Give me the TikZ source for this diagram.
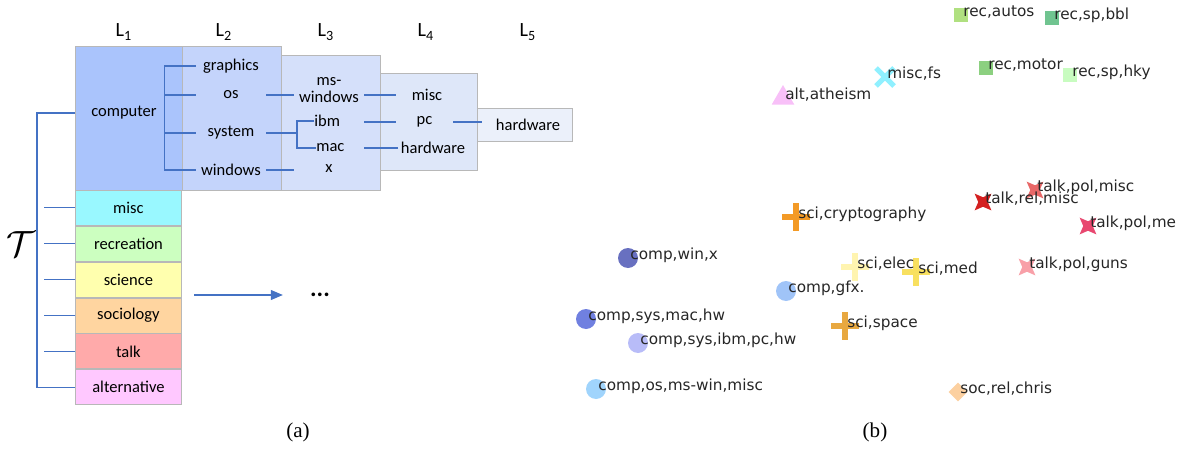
\documentclass[tikz,border=0pt]{standalone}
\usepackage{fontspec}
\setmainfont{Carlito}
\newfontfamily\plotfont{DejaVu Sans}
\newfontfamily\capfont{Liberation Serif}
\usetikzlibrary{positioning, arrows.meta, shapes.geometric, shapes.misc}
\definecolor{linkBlue}{HTML}{4472C4}
\definecolor{boxGrey}{HTML}{B8B8B8}
\definecolor{lvOne}{HTML}{AAC4FC}
\definecolor{lvTwo}{HTML}{C4D4FB}
\definecolor{lvThree}{HTML}{D5E0FA}
\definecolor{lvFour}{HTML}{DEE7F9}
\definecolor{lvFive}{HTML}{EBF0FA}
\definecolor{catMisc}{HTML}{99F8FF}
\definecolor{catRec}{HTML}{CCFFC0}
\definecolor{catSci}{HTML}{FFFFAE}
\definecolor{catSoc}{HTML}{FFD5A0}
\definecolor{catTalk}{HTML}{FFAAAA}
\definecolor{catAlt}{HTML}{FFC8FF}
\definecolor{recAutos}{HTML}{B0E080}
\definecolor{recBbl}{HTML}{70C490}
\definecolor{recMotor}{HTML}{8CD080}
\definecolor{recHky}{HTML}{C8FCC0}
\definecolor{miscFs}{HTML}{90F0FF}
\definecolor{altAth}{HTML}{F8C0F8}
\definecolor{sciCrypt}{HTML}{F39A26}
\definecolor{sciElec}{HTML}{FFF4B0}
\definecolor{sciMed}{HTML}{F8E060}
\definecolor{sciSpace}{HTML}{E8A840}
\definecolor{talkRel}{HTML}{D42020}
\definecolor{talkPolMisc}{HTML}{E86868}
\definecolor{talkPolMe}{HTML}{E84870}
\definecolor{talkGuns}{HTML}{F8A0A8}
\definecolor{compWin}{HTML}{6870C0}
\definecolor{compGfx}{HTML}{A0C4F8}
\definecolor{compMac}{HTML}{7080E0}
\definecolor{compIbm}{HTML}{B8BCF8}
\definecolor{compOs}{HTML}{A0D4FC}
\definecolor{socChris}{HTML}{FCD0A0}
\tikzstyle{levelbox} =[draw=boxGrey, line width=0.5pt, anchor=north west, inner sep=0]
\tikzstyle{word} =[inner sep=0, font=\fontsize{9.4}{10}\selectfont, align=center]
\tikzstyle{catbox} =[levelbox, minimum width=2.12cm, minimum height=0.7cm, font=\fontsize{9.4}{10}\selectfont]
\tikzstyle{lvl} =[inner sep=0, font=\fontsize{11.5}{12}\selectfont]
\tikzstyle{link} =[draw=linkBlue, line width=0.6pt]
\tikzstyle{tag} =[anchor=base west, inner sep=0, xshift=0.04cm, yshift=-0.02cm, font=\plotfont\fontsize{8.7}{10}\selectfont, text=black!85]
\tikzstyle{dot} =[circle, minimum size=0.4cm, inner sep=0]
\tikzstyle{sq} =[rectangle, minimum size=0.28cm, inner sep=0]
\tikzstyle{dia} =[diamond, minimum size=0.38cm, inner sep=0]
\tikzstyle{tri} =[regular polygon, regular polygon sides=3, minimum size=0.52cm, inner sep=0]
\tikzstyle{starmark} =[star, star points=4, star point ratio=0.4, minimum size=0.19cm, inner sep=0]
\tikzstyle{plusmark} =[cross out, rotate=45, minimum size=0.27cm, line width=0.12cm, inner sep=0]
\tikzstyle{xmark} =[cross out, minimum size=0.26cm, line width=0.1cm, inner sep=0]
\tikzstyle{capt} =[inner sep=0, font=\capfont\fontsize{12}{12}\selectfont]

\begin{document}
\begin{tikzpicture}[x=0.02cm, y=-0.02cm]
\useasboundingbox (0,0) rectangle (1184,450);

% (a) level boxes
\node (boxFive) [levelbox, fill=lvFive, minimum width=1.90cm, minimum height=0.66cm] at (477,108) {};
\node (boxFour) [levelbox, fill=lvFour, minimum width=1.94cm, minimum height=1.94cm] at (380,73) {};
\node (boxThree) [levelbox, fill=lvThree, minimum width=1.98cm, minimum height=2.70cm] at (281,55) {};
\node (boxTwo) [levelbox, fill=lvTwo, minimum width=1.98cm, minimum height=2.88cm] at (182,46) {};
\node (boxOne) [levelbox, fill=lvOne, minimum width=2.14cm, minimum height=2.88cm] at (75,46) {};

\node (lOne) [lvl] at (124,32) {L\textsubscript{1}};
\node (lTwo) [lvl] at (224,32) {L\textsubscript{2}};
\node (lThree) [lvl] at (326,32) {L\textsubscript{3}};
\node (lFour) [lvl] at (426,32) {L\textsubscript{4}};
\node (lFive) [lvl] at (528,32) {L\textsubscript{5}};

\node (computer) [word] at (124,113) {computer};
\node (graphics) [word, minimum width=1.4cm] at (231,66) {graphics};
\node (os) [word, minimum width=1.4cm] at (231,95) {os};
\node (system) [word, minimum width=1.4cm] at (231,133) {system};
\node (windows) [word, minimum width=1.4cm] at (231,170) {windows};
\node (msWin) [word, minimum width=1.4cm] at (329,90) {ms-\\windows};
\node (ibm) [word, anchor=west] at (314,121) {ibm};
\node (mac) [word, anchor=west] at (316,148) {mac};
\node (xLeaf) [word, minimum width=1.4cm] at (329,169) {x};
\node (miscFour) [word, minimum width=1.24cm] at (427,95) {misc};
\node (pc) [word, minimum width=1.14cm] at (424.5,122) {pc};
\node (hwFour) [word, minimum width=1.38cm] at (433,148) {hardware};
\node (hwFive) [word, minimum width=1.84cm] at (528,125) {hardware};

\draw[link] (graphics.west) -- ++(-31,0) |- (windows.west);
\draw[link] (os.west) -- ++(-31,0);
\draw[link] (system.west) -- ++(-31,0);
\draw[link] (os.east) -- (os.east -| msWin.west);
\draw[link] (ibm.west) -- ++(-17,0) coordinate (brTop) |- (mac.west);
\draw[link] (system.east) -- (system.east -| brTop);
\draw[link] (windows.east) -- (windows.east -| xLeaf.west);
\draw[link] (miscFour.west) -- (miscFour.west -| msWin.east);
\draw[link] (pc.west) -- (pc.west -| msWin.east);
\draw[link] (hwFour.west) -- (hwFour.west -| msWin.east);
\draw[link] (pc.east) -- (pc.east -| hwFive.west);

% categories
\node (cMisc) [catbox, fill=catMisc] at (75,190) {misc};
\node (cRec) [catbox, fill=catRec, below=0cm of cMisc] {recreation};
\node (cSci) [catbox, fill=catSci, below=0cm of cRec] {science};
\node (cSoc) [catbox, fill=catSoc, below=0cm of cSci] {sociology};
\node (cTalk) [catbox, fill=catTalk, below=0cm of cSoc] {talk};
\node (cAlt) [catbox, fill=catAlt, below=0cm of cTalk] {alternative};

\node (tree) [inner sep=0, font=\fontsize{22}{22}\selectfont] at (21,244) {$\mathcal{T}$};
\draw[link] (computer.west -| boxOne.west) -- ++(-38,0) |- (cAlt.west);
\foreach \c in {cMisc, cRec, cSci, cSoc, cTalk}
	\draw[link] (\c.west) -- ++(-31,0);

\coordinate (arrowStart) at (194,295);
\node (dots) [inner sep=0, font=\fontsize{14}{14}\selectfont\bfseries] at (320,295) {...};
\draw[-{Triangle[length=0.24cm, width=0.2cm]}, link, shorten >=0.54cm] (arrowStart) -- (dots.west);

% (b) scatter
\node (recAutos) [sq, fill=recAutos] at (961,15) {};
\node (recBbl) [sq, fill=recBbl] at (1052,18) {};
\node (recMotor) [sq, fill=recMotor] at (986,68) {};
\node (recHky) [sq, fill=recHky] at (1070,75) {};
\node (miscFs) [xmark, draw=miscFs] at (885,77) {};
\node (altAth) [tri, fill=altAth] at (783,98) {};
\node (sciCrypt) [plusmark, draw=sciCrypt] at (796,217) {};
\node (talkRel) [starmark, fill=talkRel] at (983,202) {};
\node (talkPolMisc) [starmark, fill=talkPolMisc] at (1035,190) {};
\node (talkPolMe) [starmark, fill=talkPolMe] at (1088,226) {};
\node (talkGuns) [starmark, fill=talkGuns] at (1027,267) {};
\node (sciElec) [plusmark, draw=sciElec] at (855,267) {};
\node (sciMed) [plusmark, draw=sciMed] at (916,272) {};
\node (sciSpace) [plusmark, draw=sciSpace] at (845,326) {};
\node (compWin) [dot, fill=compWin] at (628,258) {};
\node (compGfx) [dot, fill=compGfx] at (786,291) {};
\node (compMac) [dot, fill=compMac] at (586,319) {};
\node (compIbm) [dot, fill=compIbm] at (638,343) {};
\node (compOs) [dot, fill=compOs] at (596,389) {};
\node (socChris) [dia, fill=socChris] at (958,392) {};

\node (tRecAutos) [tag] at (recAutos.center) {rec,autos};
\node (tRecBbl) [tag] at (recBbl.center) {rec,sp,bbl};
\node (tRecMotor) [tag] at (recMotor.center) {rec,motor};
\node (tRecHky) [tag] at (recHky.center) {rec,sp,hky};
\node (tMiscFs) [tag] at (miscFs.center) {misc,fs};
\node (tAltAth) [tag] at (altAth.center) {alt,atheism};
\node (tSciCrypt) [tag] at (sciCrypt.center) {sci,cryptography};
\node (tTalkRel) [tag] at (talkRel.center) {talk,rel,misc};
\node (tTalkPolMisc) [tag] at (talkPolMisc.center) {talk,pol,misc};
\node (tTalkPolMe) [tag] at (talkPolMe.center) {talk,pol,me};
\node (tTalkGuns) [tag] at (talkGuns.center) {talk,pol,guns};
\node (tSciElec) [tag] at (sciElec.center) {sci,elec};
\node (tSciMed) [tag] at (sciMed.center) {sci,med};
\node (tSciSpace) [tag] at (sciSpace.center) {sci,space};
\node (tCompWin) [tag] at (compWin.center) {comp,win,x};
\node (tCompGfx) [tag] at (compGfx.center) {comp,gfx.};
\node (tCompMac) [tag] at (compMac.center) {comp,sys,mac,hw};
\node (tCompIbm) [tag] at (compIbm.center) {comp,sys,ibm,pc,hw};
\node (tCompOs) [tag] at (compOs.center) {comp,os,ms-win,misc};
\node (tSocChris) [tag] at (socChris.center) {soc,rel,chris};

\node (capA) [capt] at (298,432) {(a)};
\node (capB) [capt] at (875,432) {(b)};
\end{tikzpicture}
\end{document}
